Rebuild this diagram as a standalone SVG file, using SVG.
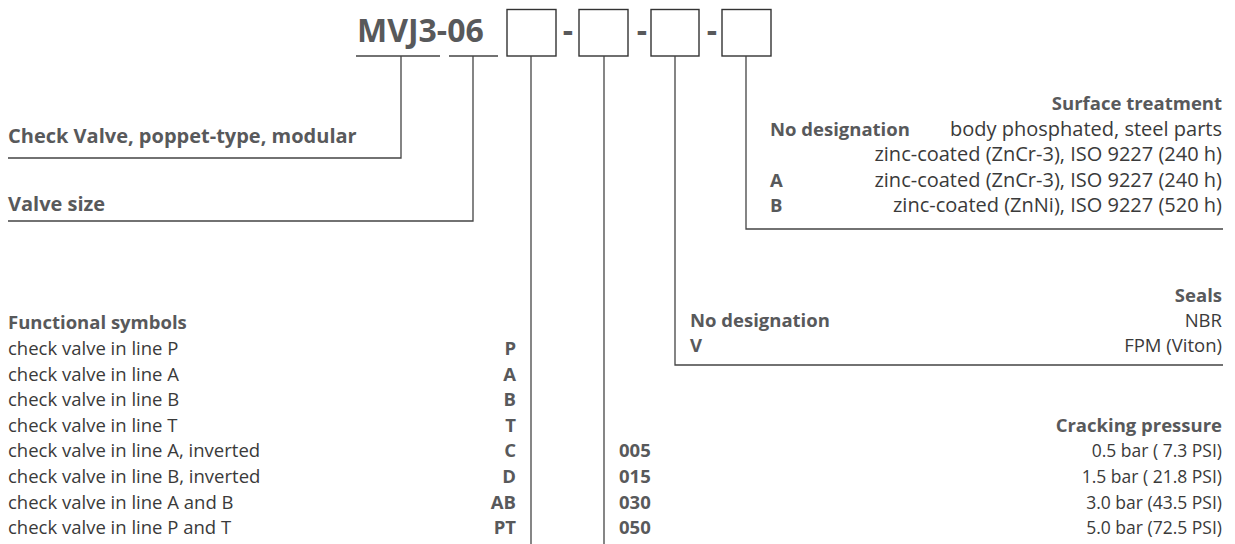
<svg xmlns="http://www.w3.org/2000/svg" width="1235" height="544" viewBox="0 0 1235 544">
<style>
text{font-family:"Open Sans","Liberation Sans",sans-serif;font-size:18.5px;fill:#3a3a3a}
.b{font-weight:bold;fill:#58595b}
.r{text-anchor:end}
.big{font-size:20px}
.sm{font-size:17.5px}
.title{font-size:32px;font-weight:bold;fill:#58595b}
.box{fill:none;stroke:#333;stroke-width:1.4}
.ln{fill:none;stroke:#444;stroke-width:1.3}
</style>
<rect width="1235" height="544" fill="#fff"/>
<g id="code">
<text class="title" x="357" y="42">MVJ3-06</text>
<rect class="box" x="507" y="9.5" width="49" height="46.5"/>
<text class="title" x="568" y="42" text-anchor="middle">-</text>
<rect class="box" x="579" y="9.5" width="49" height="46.5"/>
<text class="title" x="642" y="42" text-anchor="middle">-</text>
<rect class="box" x="651" y="9.5" width="48" height="46.5"/>
<text class="title" x="712" y="42" text-anchor="middle">-</text>
<rect class="box" x="722" y="9.5" width="49" height="46.5"/>
</g>
<g id="connectors">
<path class="ln" d="M356 56H440M401 56V158H8"/>
<path class="ln" d="M449 56H498M473 56V221H8"/>
<path class="ln" d="M531 56V544"/>
<path class="ln" d="M604 56V544"/>
<path class="ln" d="M675 56V365H1223"/>
<path class="ln" d="M746 56V229H1223"/>
</g>
<g id="type">
<text class="b big" x="8" y="143">Check Valve, poppet-type, modular</text>
</g>
<g id="size">
<text class="b big" x="8" y="211">Valve size</text>
</g>
<g id="surface">
<text class="b r" x="1222" y="110">Surface treatment</text>
<text class="b" x="770" y="136">No designation</text>
<text class="r big" x="1222" y="136">body phosphated, steel parts</text>
<text class="r big" x="1222" y="161">zinc-coated (ZnCr-3), ISO 9227 (240 h)</text>
<text class="b" x="770" y="187">A</text>
<text class="r big" x="1222" y="187">zinc-coated (ZnCr-3), ISO 9227 (240 h)</text>
<text class="b" x="770" y="212">B</text>
<text class="r big" x="1222" y="212">zinc-coated (ZnNi), ISO 9227 (520 h)</text>
</g>
<g id="seals">
<text class="b r" x="1222" y="302">Seals</text>
<text class="b" x="690" y="327">No designation</text>
<text class="r" x="1222" y="327">NBR</text>
<text class="b" x="690" y="352">V</text>
<text class="r" x="1222" y="352">FPM (Viton)</text>
</g>
<g id="functional">
<text class="b" x="8" y="329">Functional symbols</text>
<text x="8" y="355">check valve in line P</text><text class="b r" x="516" y="355">P</text>
<text x="8" y="381">check valve in line A</text><text class="b r" x="516" y="381">A</text>
<text x="8" y="406">check valve in line B</text><text class="b r" x="516" y="406">B</text>
<text x="8" y="432">check valve in line T</text><text class="b r" x="516" y="432">T</text>
<text x="8" y="457">check valve in line A, inverted</text><text class="b r" x="516" y="457">C</text>
<text x="8" y="483">check valve in line B, inverted</text><text class="b r" x="516" y="483">D</text>
<text x="8" y="509">check valve in line A and B</text><text class="b r" x="516" y="509">AB</text>
<text x="8" y="534">check valve in line P and T</text><text class="b r" x="516" y="534">PT</text>
</g>
<g id="cracking">
<text class="b r" x="1222" y="432">Cracking pressure</text>
<text class="b" x="619" y="457">005</text><text class="r sm" x="1222" y="457">0.5 bar ( 7.3 PSI)</text>
<text class="b" x="619" y="483">015</text><text class="r sm" x="1222" y="483">1.5 bar ( 21.8 PSI)</text>
<text class="b" x="619" y="509">030</text><text class="r sm" x="1222" y="509">3.0 bar (43.5 PSI)</text>
<text class="b" x="619" y="534">050</text><text class="r sm" x="1222" y="534">5.0 bar (72.5 PSI)</text>
</g>
</svg>
